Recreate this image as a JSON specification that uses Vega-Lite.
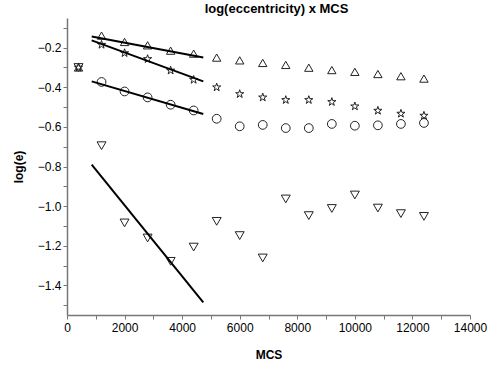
{
  "$schema": "https://vega.github.io/schema/vega-lite/v6.json",
  "width": 403,
  "height": 297,
  "autosize": "none",
  "padding": {"left": 67, "top": 18, "right": 33, "bottom": 53},
  "background": "white",
  "config": {
    "view": {"stroke": null},
    "font": "Liberation Sans",
    "axis": {
      "grid": false,
      "domainColor": "#777777",
      "domainWidth": 1.5,
      "tickColor": "#777777",
      "tickSize": 4,
      "labelFont": "Liberation Sans",
      "labelFontSize": 12,
      "labelColor": "black",
      "titleFont": "Liberation Sans",
      "titleFontSize": 12,
      "titleFontWeight": "bold",
      "titleColor": "black"
    }
  },
  "title": {
    "text": "log(eccentricity) x MCS",
    "font": "Liberation Sans",
    "fontSize": 13,
    "fontWeight": "bold",
    "anchor": "middle",
    "offset": 2,
    "dx": 8
  },
  "datasets": {
    "points": [
      {"mcs": 400, "loge": -0.30, "series": "up"},
      {"mcs": 1200, "loge": -0.139, "series": "up"},
      {"mcs": 2000, "loge": -0.171, "series": "up"},
      {"mcs": 2800, "loge": -0.188, "series": "up"},
      {"mcs": 3600, "loge": -0.215, "series": "up"},
      {"mcs": 4400, "loge": -0.230, "series": "up"},
      {"mcs": 5200, "loge": -0.250, "series": "up"},
      {"mcs": 6000, "loge": -0.264, "series": "up"},
      {"mcs": 6800, "loge": -0.277, "series": "up"},
      {"mcs": 7600, "loge": -0.287, "series": "up"},
      {"mcs": 8400, "loge": -0.301, "series": "up"},
      {"mcs": 9200, "loge": -0.313, "series": "up"},
      {"mcs": 10000, "loge": -0.322, "series": "up"},
      {"mcs": 10800, "loge": -0.333, "series": "up"},
      {"mcs": 11600, "loge": -0.344, "series": "up"},
      {"mcs": 12400, "loge": -0.356, "series": "up"},
      {"mcs": 400, "loge": -0.30, "series": "star"},
      {"mcs": 1200, "loge": -0.185, "series": "star"},
      {"mcs": 2000, "loge": -0.227, "series": "star"},
      {"mcs": 2800, "loge": -0.257, "series": "star"},
      {"mcs": 3600, "loge": -0.315, "series": "star"},
      {"mcs": 4400, "loge": -0.362, "series": "star"},
      {"mcs": 5200, "loge": -0.400, "series": "star"},
      {"mcs": 6000, "loge": -0.434, "series": "star"},
      {"mcs": 6800, "loge": -0.451, "series": "star"},
      {"mcs": 7600, "loge": -0.464, "series": "star"},
      {"mcs": 8400, "loge": -0.464, "series": "star"},
      {"mcs": 9200, "loge": -0.474, "series": "star"},
      {"mcs": 10000, "loge": -0.496, "series": "star"},
      {"mcs": 10800, "loge": -0.518, "series": "star"},
      {"mcs": 11600, "loge": -0.533, "series": "star"},
      {"mcs": 12400, "loge": -0.543, "series": "star"},
      {"mcs": 1200, "loge": -0.373, "series": "circle"},
      {"mcs": 2000, "loge": -0.421, "series": "circle"},
      {"mcs": 2800, "loge": -0.451, "series": "circle"},
      {"mcs": 3600, "loge": -0.488, "series": "circle"},
      {"mcs": 4400, "loge": -0.517, "series": "circle"},
      {"mcs": 5200, "loge": -0.559, "series": "circle"},
      {"mcs": 6000, "loge": -0.597, "series": "circle"},
      {"mcs": 6800, "loge": -0.590, "series": "circle"},
      {"mcs": 7600, "loge": -0.606, "series": "circle"},
      {"mcs": 8400, "loge": -0.606, "series": "circle"},
      {"mcs": 9200, "loge": -0.585, "series": "circle"},
      {"mcs": 10000, "loge": -0.594, "series": "circle"},
      {"mcs": 10800, "loge": -0.592, "series": "circle"},
      {"mcs": 11600, "loge": -0.585, "series": "circle"},
      {"mcs": 12400, "loge": -0.580, "series": "circle"},
      {"mcs": 400, "loge": -0.30, "series": "down"},
      {"mcs": 1200, "loge": -0.695, "series": "down"},
      {"mcs": 2000, "loge": -1.085, "series": "down"},
      {"mcs": 2800, "loge": -1.161, "series": "down"},
      {"mcs": 3600, "loge": -1.279, "series": "down"},
      {"mcs": 4400, "loge": -1.207, "series": "down"},
      {"mcs": 5200, "loge": -1.077, "series": "down"},
      {"mcs": 6000, "loge": -1.149, "series": "down"},
      {"mcs": 6800, "loge": -1.262, "series": "down"},
      {"mcs": 7600, "loge": -0.964, "series": "down"},
      {"mcs": 8400, "loge": -1.048, "series": "down"},
      {"mcs": 9200, "loge": -1.012, "series": "down"},
      {"mcs": 10000, "loge": -0.944, "series": "down"},
      {"mcs": 10800, "loge": -1.010, "series": "down"},
      {"mcs": 11600, "loge": -1.038, "series": "down"},
      {"mcs": 12400, "loge": -1.052, "series": "down"}
    ],
    "fits": [
      {"mcs": 858, "loge": -0.143, "series": "up"},
      {"mcs": 4734, "loge": -0.250, "series": "up"},
      {"mcs": 858, "loge": -0.163, "series": "star"},
      {"mcs": 4734, "loge": -0.370, "series": "star"},
      {"mcs": 858, "loge": -0.370, "series": "circle"},
      {"mcs": 4734, "loge": -0.535, "series": "circle"},
      {"mcs": 858, "loge": -0.791, "series": "down"},
      {"mcs": 4734, "loge": -1.486, "series": "down"}
    ]
  },
  "layer": [
    {
      "data": {"name": "points"},
      "mark": {"type": "point", "filled": false, "strokeWidth": 1, "opacity": 1},
      "encoding": {
        "x": {
          "field": "mcs", "type": "quantitative",
          "scale": {"domain": [0, 14000], "nice": false, "zero": false},
          "axis": {
            "title": "MCS",
            "values": [0,1000,2000,3000,4000,5000,6000,7000,8000,9000,10000,11000,12000,13000,14000],
            "tickCount": 30,
            "format": "d",
            "labelExpr": "datum.value % 2000 == 0 ? datum.label : ''",
            "labelPadding": 3,
            "titlePadding": 16,
            "labelFlush": false
          }
        },
        "y": {
          "field": "loge", "type": "quantitative",
          "scale": {"domain": [-1.55, -0.05], "nice": false, "zero": false},
          "axis": {
            "title": "log(e)",
            "values": [-1.5,-1.4,-1.3,-1.2,-1.1,-1.0,-0.9,-0.8,-0.7,-0.6,-0.5,-0.4,-0.3,-0.2,-0.1],
            "tickCount": 30,
            "format": ".1f",
            "labelExpr": "floor(-datum.value*10+0.5) % 2 == 0 ? datum.label : ''",
            "labelOverlap": false,
            "labelPadding": 2,
            "titlePadding": 12,
            "labelFlush": false
          }
        },
        "shape": {
          "field": "series", "type": "nominal",
          "scale": {"domain": ["up", "star", "circle", "down"], "range": ["triangle-up", "M0,-1L0.2245,-0.309L0.951,-0.309L0.363,0.118L0.588,0.809L0,0.382L-0.588,0.809L-0.363,0.118L-0.951,-0.309L-0.2245,-0.309Z", "circle", "triangle-down"]},
          "legend": null
        },
        "size": {
          "field": "series", "type": "nominal",
          "scale": {"domain": ["up", "star", "circle", "down"], "range": [70, 80, 75, 70]},
          "legend": null
        },
        "color": {"value": "#222222"}
      }
    },
    {
      "data": {"name": "fits"},
      "mark": {"type": "line", "color": "black", "strokeWidth": 2},
      "encoding": {
        "x": {"field": "mcs", "type": "quantitative"},
        "y": {"field": "loge", "type": "quantitative"},
        "detail": {"field": "series", "type": "nominal"}
      }
    }
  ]
}
